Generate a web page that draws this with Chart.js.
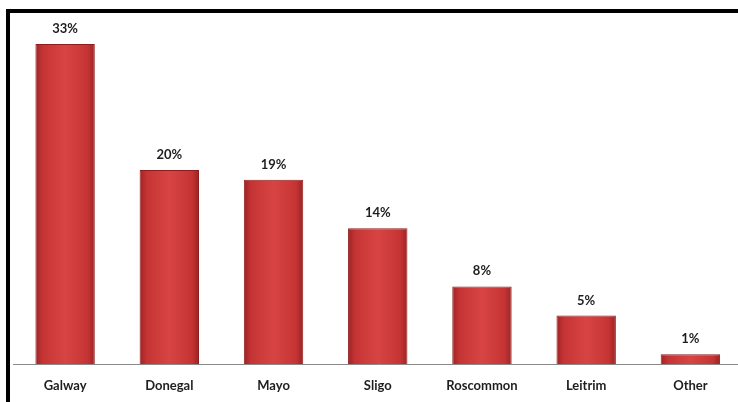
<!DOCTYPE html>
<html>
<head>
<meta charset="utf-8">
<script src="https://cdn.jsdelivr.net/npm/chart.js@4"></script>
<style>
  html, body { margin: 0; padding: 0; background: #fff; overflow: hidden; width: 738px; height: 402px; }
  #frame {
    position: absolute; left: 6px; top: 9px; width: 760px; height: 400px;
    border-left: 4px solid #000; border-top: 4px solid #000;
  }
  #wrap { position: absolute; left: 10px; top: 13px; width: 736px; height: 389px; }
</style>
</head>
<body>
<div id="frame"></div>
<div id="wrap"><canvas id="myChart" width="736" height="389"></canvas></div>
<script>
const counties = ['Galway', 'Donegal', 'Mayo', 'Sligo', 'Roscommon', 'Leitrim', 'Other'];
const shares = [33, 20, 19, 14, 8, 5, 1];

const barPct = 0.57;

// horizontal shading on each bar, darker at the edges
function barFill(c) {
  const x = c.chart.scales.x;
  if (!x || !x.width) return '#c83636';
  const mid = x.getPixelForValue(c.dataIndex);
  const half = x.width / counties.length * barPct / 2;
  const g = c.chart.ctx.createLinearGradient(mid - half, 0, mid + half, 0);
  g.addColorStop(0, '#9e2222');
  g.addColorStop(0.12, '#c53434');
  g.addColorStop(0.5, '#d84444');
  g.addColorStop(0.88, '#c53434');
  g.addColorStop(1, '#9e2222');
  return g;
}

// baseline under the bars + the % labels on top
const decor = {
  id: 'decor',
  beforeDatasetsDraw(chart) {
    const c = chart.ctx;
    const y0 = Math.round(chart.scales.y.getPixelForValue(0)) + 0.5;
    c.save();
    c.strokeStyle = '#8a8a8a';
    c.lineWidth = 1;
    c.beginPath();
    c.moveTo(3, y0);
    c.lineTo(chart.width, y0);
    c.stroke();
    c.restore();
  },
  afterDatasetsDraw(chart) {
    const c = chart.ctx;
    const meta = chart.getDatasetMeta(0);
    c.save();
    c.font = 'bold 13px Lato, "Open Sans", sans-serif';
    c.fillStyle = '#1e1e1e';
    c.textAlign = 'center';
    c.textBaseline = 'alphabetic';
    meta.data.forEach((bar, i) => {
      c.fillText(shares[i] + '%', bar.x, bar.y - 11);
    });
    c.restore();
  }
};

const ctx = document.getElementById('myChart');
new Chart(ctx, {
  type: 'bar',
  data: {
    labels: counties,
    datasets: [{
      data: shares,
      backgroundColor: barFill,
      borderColor: '#8e1e1e',
      borderWidth: 1,
      borderSkipped: 'bottom',
      barPercentage: barPct,
      categoryPercentage: 1
    }]
  },
  options: {
    responsive: false,
    animation: false,
    devicePixelRatio: 1,
    layout: { padding: { top: 11.5, left: 3, right: 3.5, bottom: 0 } },
    plugins: { legend: { display: false }, tooltip: { enabled: false } },
    scales: {
      x: {
        offset: true,
        grid: { display: false, drawTicks: false, tickLength: 0 },
        border: { display: false },
        ticks: {
          color: '#1e1e1e',
          padding: 14,
          maxRotation: 0,
          autoSkip: false,
          font: { family: 'Lato, "Open Sans", sans-serif', weight: 'bold', size: 13 }
        },
        afterFit(scale) { scale.height = 38; }
      },
      y: { display: false, min: 0, max: 35 }
    }
  },
  plugins: [decor]
});
</script>
</body>
</html>
